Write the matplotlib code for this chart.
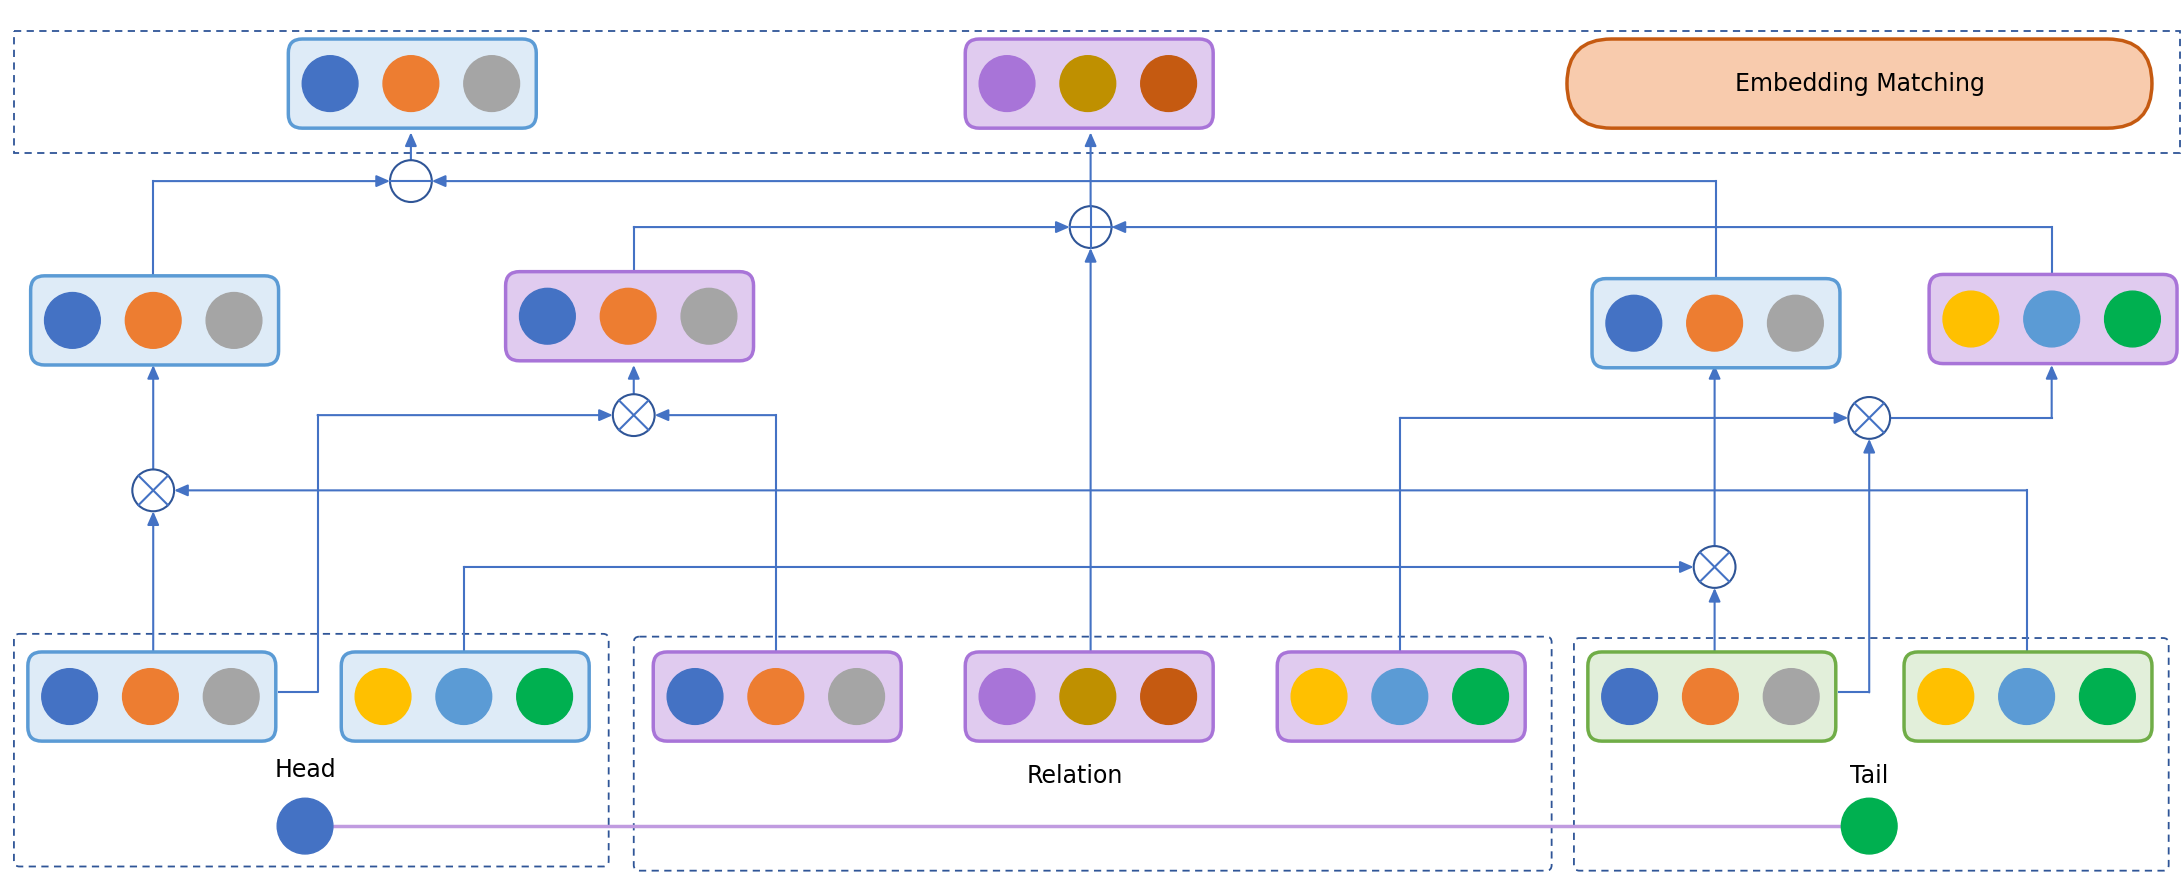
import matplotlib.pyplot as plt
from matplotlib.patches import FancyBboxPatch, Circle, Rectangle

# 颜色
BLUE, ORANGE, GRAY = '#4472c4', '#ed7d31', '#a5a5a5'
YELLOW, LBLUE, GREEN = '#ffc000', '#5b9bd5', '#00b050'
PURPLE, OLIVE, RUST = '#a874d8', '#bf9000', '#c55a11'
LINE = '#4472c4'
OP_EDGE = '#2f5597'

STYLE = {
    'blue': ('#deebf7', '#5b9bd5'),
    'purple': ('#e0cbef', '#a874d8'),
    'green': ('#e2efda', '#70ad47'),
}

# 嵌入向量: (x左, y上, 样式, 颜色)
top_boxes = [(207, 28, 'blue', [BLUE, ORANGE, GRAY]),
             (693, 28, 'purple', [PURPLE, OLIVE, RUST])]
mid_boxes = [(22, 198, 'blue', [BLUE, ORANGE, GRAY]),
             (363, 195, 'purple', [BLUE, ORANGE, GRAY]),
             (1143, 200, 'blue', [BLUE, ORANGE, GRAY]),
             (1385, 197, 'purple', [YELLOW, LBLUE, GREEN])]
bottom_boxes = [(20, 468, 'blue', [BLUE, ORANGE, GRAY]),
                (245, 468, 'blue', [YELLOW, LBLUE, GREEN]),
                (469, 468, 'purple', [BLUE, ORANGE, GRAY]),
                (693, 468, 'purple', [PURPLE, OLIVE, RUST]),
                (917, 468, 'purple', [YELLOW, LBLUE, GREEN]),
                (1140, 468, 'green', [BLUE, ORANGE, GRAY]),
                (1367, 468, 'green', [YELLOW, LBLUE, GREEN])]
BW, BH = 178, 64

groups = [(10, 455, 427, 167, 'Head', 219, 553),
          (455, 457, 659, 168, 'Relation', 772, 557),
          (1130, 458, 427, 167, 'Tail', 1342, 557)]

fig = plt.figure(figsize=(21.84, 8.86), dpi=100)
ax = fig.add_axes([0, 0, 1, 1])
ax.set_xlim(0, 1568)
ax.set_ylim(636, 0)
ax.axis('off')


def emb_box(x, y, style, colors):
    face, edge = STYLE[style]
    ax.add_patch(FancyBboxPatch((x, y), BW, BH, boxstyle='round,pad=0,rounding_size=10',
                                fc=face, ec=edge, lw=2.5, zorder=3))
    for i, c in enumerate(colors):
        ax.add_patch(Circle((x + 30 + i * 58, y + BH / 2), 20, color=c, zorder=4))


for b in top_boxes + mid_boxes + bottom_boxes:
    emb_box(*b)

# 虚线框
ax.add_patch(Rectangle((10, 22), 1555, 88, fill=False, ec='#2f5597', ls=(0, (4, 3)), lw=1.3))
for gx, gy, gw, gh, label, tx, ty in groups:
    ax.add_patch(FancyBboxPatch((gx, gy), gw, gh, boxstyle='round,pad=0,rounding_size=4',
                                fill=False, ec='#2f5597', ls=(0, (4, 3)), lw=1.3))
    ax.text(tx, ty, label, fontsize=17, ha='center', va='center', family='DejaVu Sans')

ax.add_patch(FancyBboxPatch((1125, 28), 420, 64, boxstyle='round,pad=0,rounding_size=32',
                            fc='#f8cbad', ec='#c55a11', lw=2.5))
ax.text(1335, 60, 'Embedding Matching', fontsize=17, ha='center', va='center')

# Head / Tail
ax.plot([219, 1342], [593, 593], color='#c09be0', lw=2.5, zorder=2)
ax.add_patch(Circle((219, 593), 20, color=BLUE, zorder=4))
ax.add_patch(Circle((1342, 593), 20, color=GREEN, zorder=4))

R = 15


def op(x, y, kind):
    ax.add_patch(Circle((x, y), R, fc='white', ec=OP_EDGE, lw=1.5, zorder=5))
    if kind == 'minus':
        ax.plot([x - R, x + R], [y, y], color=LINE, lw=1.5, zorder=6)
    elif kind == 'plus':
        ax.plot([x - R, x + R], [y, y], color=LINE, lw=1.5, zorder=6)
        ax.plot([x, x], [y - R, y + R], color=LINE, lw=1.5, zorder=6)
    else:
        d = R * 0.707
        ax.plot([x - d, x + d], [y - d, y + d], color=LINE, lw=1.5, zorder=6)
        ax.plot([x - d, x + d], [y + d, y - d], color=LINE, lw=1.5, zorder=6)


def path(xs, ys, arrow=True):
    ax.plot(xs[:-1] if arrow else xs, ys[:-1] if arrow else ys, color=LINE, lw=1.5, zorder=2)
    if arrow:
        ax.annotate('', xy=(xs[-1], ys[-1]), xytext=(xs[-2], ys[-2]),
                    arrowprops=dict(arrowstyle='-|>,head_length=0.8,head_width=0.35',
                                    color=LINE, lw=1.5, shrinkA=0, shrinkB=0), zorder=2)


ops = [(295, 130, 'minus'), (783, 163, 'plus'), (110, 352, 'times'),
       (455, 298, 'times'), (1231, 407, 'times'), (1342, 300, 'times')]
for o in ops:
    op(*o)

# 连线
path([295, 295], [115, 95])
path([110, 110, 280], [198, 130, 130])
path([1232, 1232, 310], [200, 130, 130])
path([783, 783], [148, 95])
path([455, 455, 768], [195, 163, 163])
path([1473, 1473, 798], [197, 163, 163])
path([783, 783], [468, 178])
path([110, 110], [337, 262])
path([110, 110], [468, 367])
path([1455, 1455, 125], [468, 352, 352])
path([455, 455], [283, 262])
path([200, 228, 228, 440], [497, 497, 298, 298])
path([557, 557, 470], [468, 298, 298])
path([1231, 1231], [392, 262])
path([1231, 1231], [468, 422])
path([333, 333, 1216], [468, 407, 407])
path([1357, 1473, 1473], [300, 300, 262])
path([1005, 1005, 1327], [468, 300, 300])
path([1320, 1342, 1342], [497, 497, 315])

fig.savefig('out.png', dpi=100)
